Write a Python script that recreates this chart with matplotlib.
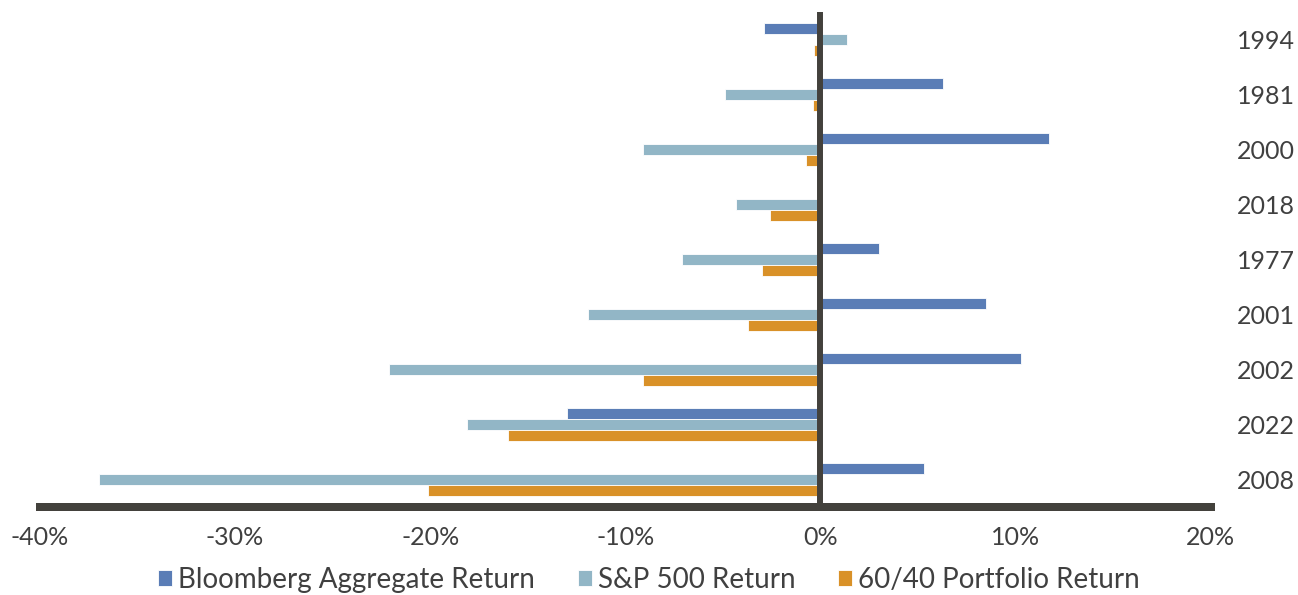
import matplotlib
matplotlib.use("Agg")
import matplotlib.pyplot as plt
import numpy as np

years = ["1994", "1981", "2000", "2018", "1977", "2001", "2002", "2022", "2008"]
bloomberg = [-2.9, 6.3, 11.7, 0.0, 3.0, 8.5, 10.3, -13.0, 5.3]
sp500 = [1.35, -4.9, -9.1, -4.3, -7.1, -11.9, -22.1, -18.1, -37.0]
portfolio = [-0.35, -0.4, -0.75, -2.6, -3.0, -3.7, -9.1, -16.0, -20.1]
series_names = ["Bloomberg Aggregate Return", "S&P 500 Return", "60/40 Portfolio Return"]
colors = ["#5A7DB6", "#92B6C6", "#D99128"]
xticks = [-40, -30, -20, -10, 0, 10, 20]
xticklabels = ["-40%", "-30%", "-20%", "-10%", "0%", "10%", "20%"]

plt.rcParams['font.family'] = ['Lato', 'DejaVu Sans']
text_color = "#404040"
axis_color = "#43413C"

fig = plt.figure(figsize=(12.98, 5.95), dpi=100)
W, H = 1298, 595
left_px, right_px, top_px, bot_px = 40, 1210.5, 12, 507
ax = fig.add_axes([left_px / W, 1 - bot_px / H, (right_px - left_px) / W, (bot_px - top_px) / H])

y = np.arange(len(years))
h = 0.2
for offs, vals, name, c in zip([-h, 0, h], [bloomberg, sp500, portfolio], series_names, colors):
    ax.barh(y + offs, vals, height=h, color=c, edgecolor="white", linewidth=0.6, label=name, zorder=2)

ax.set_xlim(-40, 20)
ax.set_ylim(len(years) - 0.5, -0.5)
ax.axvline(0, color=axis_color, lw=4.3, zorder=3)

for s in ["top", "right", "left"]:
    ax.spines[s].set_visible(False)
ax.spines["bottom"].set_color(axis_color)
ax.spines["bottom"].set_linewidth(5.76)
ax.spines["bottom"].set_zorder(4)

ax.set_xticks(xticks)
ax.set_xticklabels(xticklabels)
ax.tick_params(axis="x", length=0, pad=14, labelsize=18, labelcolor=text_color)

ax.yaxis.tick_right()
ax.set_yticks(y)
ax.set_yticklabels(years)
ax.tick_params(axis="y", length=0, pad=19, labelsize=18, labelcolor=text_color)

leg = fig.legend(loc="center", bbox_to_anchor=(0.5, 1 - 580 / H), ncol=3, frameon=False,
                 fontsize=20, handlelength=0.5, handleheight=0.5, handletextpad=0.22,
                 columnspacing=1.55, labelcolor=text_color)

fig.savefig("out.png", dpi=100, facecolor="white")
